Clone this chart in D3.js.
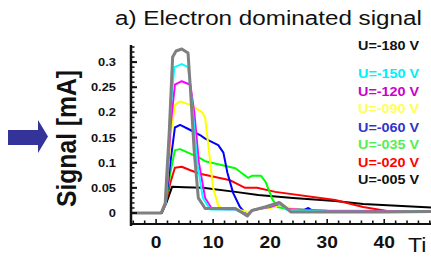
<!DOCTYPE html>
<html><head><meta charset="utf-8">
<script src="https://cdn.jsdelivr.net/npm/d3@7"></script>
<style>html,body{margin:0;padding:0;background:#fff;overflow:hidden}svg{display:block}</style>
</head><body>
<script>
// ---- data (time in ns, signal in mA) ----
const seriesLabels = ["U=-180 V","U=-150 V","U=-120 V","U=-090 V","U=-060 V","U=-035 V","U=-020 V","U=-005 V"];
const lineColors  = ["#808080","#00ffff","#ff00ff","#ffff00","#0000ff","#00ff00","#ff0000","#000000"];
const legendColors= ["#111111","#00f0f8","#cc00cc","#ffff55","#3333cc","#55ee55","#ff0000","#111111"];
const xTicks = [0,10,20,30,40];
const yTicks = [0,0.05,0.1,0.15,0.2,0.25,0.3];
const yTickLabels = ["0","0.05","0.1","0.15","0.2","0.25","0.3"];
const xAxisTitle = "Ti"; // visible (cropped) part of the x-axis title

const sig180 = [[-4.4,0],[0.9,0],[1.6,0.02],[2.3,0.16],[2.9,0.31],[3.5,0.322],[4.5,0.326],[5.6,0.318],[6.0,0.25],[6.7,0.12],[7.4,0.03],[8.6,0.009],[13.9,0.009],[16.0,-0.006],[16.8,0.005],[19.1,0.012],[21.6,0.021],[22.6,0.012],[23.6,0.002],[30,0.002],[40,0.002],[48.2,0.003]];
const sig150 = [[-4.4,0],[0.9,0],[1.7,0.02],[2.5,0.2],[3.2,0.29],[4.5,0.296],[5.6,0.29],[6.3,0.22],[7.2,0.1],[8.2,0.03],[9.5,0.007],[13.9,0.007],[16.0,-0.004],[17.0,0.006],[19.5,0.012],[21.4,0.02],[23.0,0.006],[30,0.003],[40,0.002],[48.2,0.004]];
const sig120 = [[-4.4,0],[0.9,0],[1.7,0.02],[2.6,0.18],[3.3,0.255],[4.5,0.262],[6.0,0.255],[6.7,0.2],[7.5,0.1],[8.6,0.03],[9.8,0.008],[14,0.007],[16,-0.003],[17,0.006],[20,0.012],[21.6,0.018],[23,0.008],[30,0.004],[48.2,0.003]];
const sig090 = [[-4.4,0],[0.9,0],[1.7,0.02],[2.6,0.16],[3.3,0.215],[4.2,0.222],[6.0,0.215],[8.1,0.2],[8.6,0.19],[9.3,0.12],[10.0,0.05],[10.9,0.015],[11.6,0.008],[14,0.008],[16,0.002],[18,0.008],[20,0.01],[21.6,0.016],[23.5,0.01],[25,0.006],[30,0.004],[48.2,0.003]];
const sig060 = [[-4.4,0],[0.9,0],[1.7,0.02],[2.5,0.1],[3.3,0.17],[4.2,0.175],[6.0,0.165],[7.7,0.155],[8.6,0.148],[10.9,0.135],[11.8,0.12],[12.5,0.08],[13.5,0.04],[14.7,0.012],[16.0,-0.005],[16.8,0.005],[18.6,0.01],[21.4,0.02],[23.5,0.005],[26,0.006],[26.7,0.01],[27.5,0.004],[30,0.003],[48.2,0.003]];
const sig035 = [[-4.4,0],[0.9,0],[1.7,0.02],[2.5,0.08],[3.3,0.125],[4.2,0.127],[6.0,0.118],[7.7,0.109],[8.6,0.103],[13.9,0.089],[16.1,0.07],[16.8,0.074],[18.4,0.074],[19.2,0.062],[20.4,0.027],[21.3,0.012],[23,0.008],[30,0.005],[48.2,0.003]];
const sig020 = [[-4.4,0],[0.9,0],[1.7,0.02],[2.5,0.06],[3.3,0.09],[4.5,0.092],[6.0,0.085],[7.7,0.078],[13.0,0.065],[15.6,0.05],[17.7,0.05],[20.9,0.042],[31.4,0.026],[36.3,0.012],[41,0.003],[48.2,0.003]];
const sig005 = [[-4.4,0],[1.0,0],[1.8,0.02],[2.8,0.052],[5.0,0.051],[8.2,0.05],[13.9,0.042],[17.9,0.036],[24,0.03],[31.4,0.024],[36.3,0.018],[48.2,0.011]];
const allSeries = [sig180,sig150,sig120,sig090,sig060,sig035,sig020,sig005];

// ---- layout ----
const W = 431, H = 262;
const svg = d3.select("body").append("svg").attr("width",W).attr("height",H);
const FONT = "'Liberation Sans', Arial, Helvetica, sans-serif";

const x = d3.scaleLinear().domain([-4.4,48.2]).range([131,431]);
const y = d3.scaleLinear().domain([0,0.3]).range([213,62.1]);

function sText(px,py,txt,size,weight,anchor,sx,fill){
  return svg.append("text")
    .attr("transform",`translate(${px},${py}) scale(${sx},1)`)
    .attr("text-anchor",anchor).attr("font-family",FONT)
    .attr("font-size",size).attr("font-weight",weight)
    .attr("fill",fill).text(txt);
}

// title
sText(115,25,"a) Electron dominated signal",21,"normal","start",1.154,"#111");

// arrow
svg.append("polygon")
  .attr("points","8,130 38,130 38,120 48,136.5 38,153 38,145 8,145")
  .attr("fill","#333399");

// y-axis title
svg.append("text")
  .attr("transform","translate(76,138.5) rotate(-90)")
  .attr("text-anchor","middle").attr("font-family",FONT)
  .attr("font-size",27).attr("font-weight","bold").attr("fill","#111")
  .attr("textLength",137).attr("lengthAdjust","spacingAndGlyphs")
  .text("Signal [mA]");

// curves (draw black first, gray last)
const line = d3.line().x(d=>x(d[0])).y(d=>y(d[1]));
const order = [7,6,5,4,3,2,1,0];
order.forEach(i=>{
  svg.append("path").datum(allSeries[i])
    .attr("d",line).attr("fill","none")
    .attr("stroke",lineColors[i])
    .attr("stroke-width", i===0 ? 3 : 2)
    .attr("stroke-linejoin","round");
});

// y axis
const yAx = svg.append("g").attr("transform","translate(131,0)");
const yMinor = d3.range(0,0.335,0.01);
yAx.selectAll("line.mi").data(yMinor).join("line")
  .attr("x1",0).attr("x2",3.5).attr("y1",d=>y(d)).attr("y2",d=>y(d))
  .attr("stroke","#111").attr("stroke-width",1.5);
yAx.selectAll("line.ma").data(yTicks).join("line")
  .attr("x1",0).attr("x2",6).attr("y1",d=>y(d)).attr("y2",d=>y(d))
  .attr("stroke","#111").attr("stroke-width",2);
yAx.append("line").attr("x1",0).attr("x2",0).attr("y1",y(0.334)).attr("y2",226)
  .attr("stroke","#111").attr("stroke-width",2.5);
yTicks.forEach((v,i)=>{
  sText(116,y(v)+4,yTickLabels[i],11.5,"bold","end",1.12,"#111");
});

// x axis
const xAx = svg.append("g").attr("transform","translate(0,224)");
xAx.append("line").attr("x1",131).attr("x2",431).attr("y1",0).attr("y2",0)
  .attr("stroke","#111").attr("stroke-width",2);
const xMinor = d3.range(-4,49,2);
xAx.selectAll("line.t").data(xMinor).join("line")
  .attr("x1",d=>x(d)).attr("x2",d=>x(d)).attr("y1",0).attr("y2",d=>d%10===0?-5:-3.5)
  .attr("stroke","#111").attr("stroke-width",1.6);
xTicks.forEach(t=>{
  sText(x(t),248,String(t),16,"bold","middle",1.2,"#111");
});
sText(408,252,xAxisTitle,21,"normal","start",1.1,"#111");

// legend
const legY = [50,78,96,113,132,149,167,184];
seriesLabels.forEach((s,i)=>{
  sText(358,legY[i],s,12,"bold","start",1.2,legendColors[i]);
});
</script>
</body></html>
